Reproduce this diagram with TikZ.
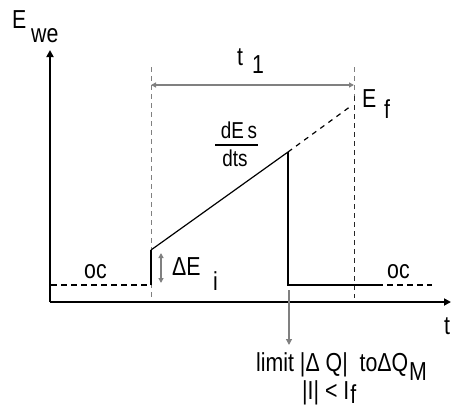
\documentclass[tikz,border=0pt]{standalone}
\usepackage{fontspec}
\setmainfont{Liberation Sans}
\newfontfamily\nf[FakeStretch=0.82]{Liberation Sans}
\usetikzlibrary{arrows.meta}
\begin{document}
\begin{tikzpicture}[x=1pt,y=-1pt,
  axis/.style={line width=2pt, -{Triangle[length=7pt,width=7pt]}},
  sig/.style={line width=1.6pt},
  slope/.style={line width=1.2pt},
  sigdash/.style={line width=1.6pt, dash pattern=on 6pt off 4pt},
  guide/.style={gray, line width=0.9pt, dash pattern=on 5pt off 4pt},
  guidedark/.style={black!85, line width=1pt, dash pattern=on 5pt off 4pt},
  dim/.style={gray, line width=1.4pt, {Triangle[length=5pt,width=5pt]}-{Triangle[length=5pt,width=5pt]}},
  pointer/.style={gray, line width=1.2pt, -{Triangle[length=6pt,width=6pt]}},
  lbl/.style={inner sep=0pt, anchor=base west, font=\nf\fontsize{26}{28}\selectfont},
  frac/.style={inner sep=0pt, anchor=base, font=\nf\fontsize{23}{25}\selectfont},
]
\useasboundingbox (0,0) rectangle (451,410);
% axes
\coordinate (O) at (50,302);
\coordinate (Ytop) at (50,50);
\coordinate (Xend) at (451,302);
\draw[axis] (O) -- (Ytop);
\draw[axis] (O) -- (Xend);
% guides
\coordinate (g1t) at (151,67);
\coordinate (g1b) at (151,298);
\coordinate (g2t) at (354,67);
\coordinate (g2m) at (354,96);
\coordinate (g2b) at (354,298);
\draw[guide] (g1t) -- (g1b);
\draw[guide] (g2t) -- (g2m);
\draw[guidedark] (g2m) -- (g2b);
% t1 dimension
\coordinate (d1) at (151,85);
\coordinate (d2) at (354,85);
\draw[dim] (d1) -- (d2);
% signal
\coordinate (s0) at (51,285);
\coordinate (s1) at (151,285);
\coordinate (s2) at (151,250);
\coordinate (s3) at (288,152);
\coordinate (s4) at (288,285);
\coordinate (s5) at (377,285);
\coordinate (s6) at (432,285);
\coordinate (ef) at (351,106);
\draw[sigdash] (s0) -- (s1);
\draw[sig] (s1) -- (s2);
\draw[slope] (s2) -- (s3);
\draw[sig] (s3) -- (s4) -- (s5);
\draw[sigdash] (s5) -- (s6);
\draw[slope, dash pattern=on 5pt off 5pt] (s3) -- (ef);
% delta E_i arrow
\coordinate (a1) at (161,253);
\coordinate (a2) at (161,283);
\draw[gray, line width=1.4pt, {Triangle[length=5pt,width=5pt]}-{Triangle[length=5pt,width=5pt]}] (a1) -- (a2);
% pointer down
\coordinate (p1) at (289,290);
\coordinate (p2) at (289,345);
\draw[pointer] (p1) -- (p2);
% labels
\node[lbl] (Ewe) at (12,28) {E};
\node[lbl] (we) at (31,42) {we};
\node[lbl] (t) at (237,65) {t};
\node[lbl] (one) at (252,73) {1};
\node[lbl] (Ef) at (362,107) {E};
\node[lbl] (f) at (384,118) {f};
\node[frac] (dEs) at (239,138) {dE\,s};
\coordinate (fb1) at (215,145);
\coordinate (fb2) at (258,145);
\draw[line width=1.2pt] (fb1) -- (fb2);
\node[frac] (dts) at (235,166) {dts};
\node[lbl] (dEi) at (172,275) {ΔE};
\node[lbl] (i) at (213,290) {i};
\node[lbl] (oc1) at (84,278) {oc};
\node[lbl] (oc2) at (387,278) {oc};
\node[lbl] (tx) at (444,334) {t};
\node[lbl] (lim) at (256,371) {limit |Δ Q|\ \ toΔQ};
\node[lbl, anchor=base west] (M) at ([xshift=0.5pt,yshift=-9pt]lim.base east) {M};
\node[lbl] (II) at (302,399) {|I| < I};
\node[lbl] (If) at ([xshift=0.5pt,yshift=-4pt]II.base east) {f};
\end{tikzpicture}
\end{document}
